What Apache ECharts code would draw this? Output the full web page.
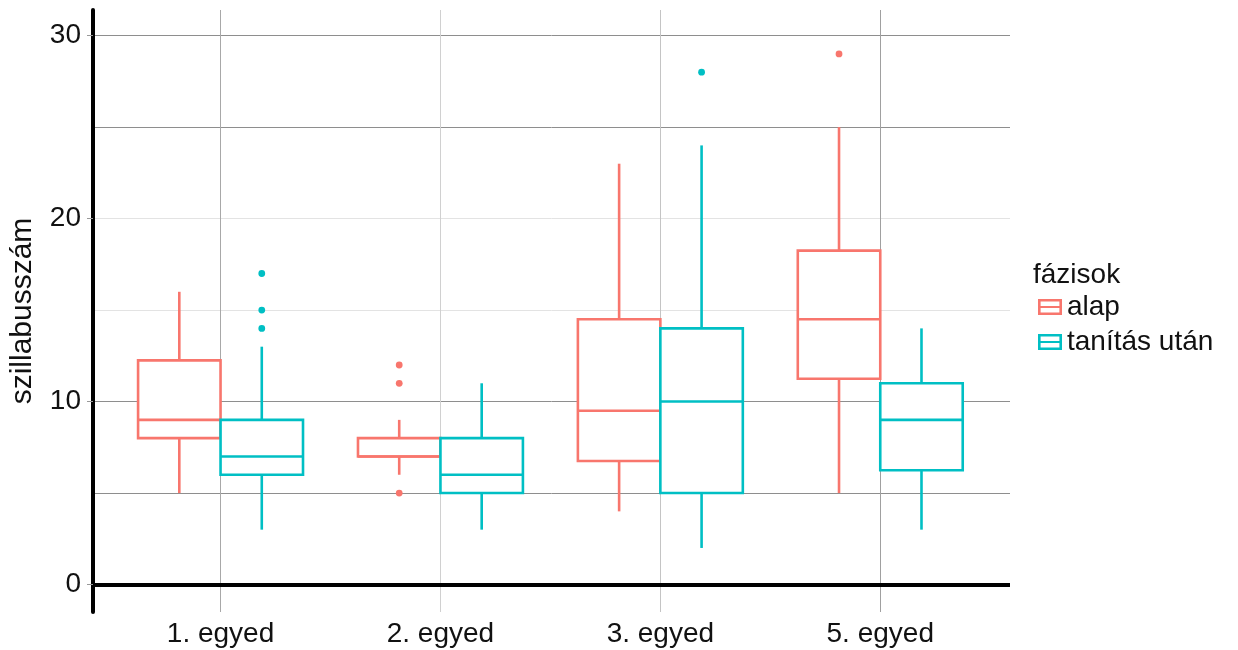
<!DOCTYPE html>
<html>
<head>
<meta charset="utf-8">
<script src="https://cdn.jsdelivr.net/npm/echarts@6/dist/echarts.min.js"></script>
<style>
html,body{margin:0;padding:0;background:#fff;}
#chart{width:1238px;height:650px;}
</style>
</head>
<body>
<div id="chart"></div>
<script>
// ---- data ----
const categories = ['1. egyed', '2. egyed', '3. egyed', '5. egyed'];
const seriesNames = ['alap', 'tanítás után'];
// [min whisker, Q1, median, Q3, max whisker] per category
const alapStats = [[5, 8, 9, 12.25, 16], [6, 7, 7, 8, 9], [4, 6.75, 9.5, 14.5, 23], [5, 11.25, 14.5, 18.25, 25]];
const utanStats = [[3, 6, 7, 9, 13], [3, 5, 6, 8, 11], [2, 5, 10, 14, 24], [3, 6.25, 9, 11, 14]];
// [category index (1-based), value]
const alapOutliers = [[2, 12], [2, 11], [2, 5], [4, 29]];
const utanOutliers = [[1, 17], [1, 15], [1, 14], [3, 28]];
const yTickLabels = [0, 10, 20, 30];
const yGridValues = [5, 10, 15, 20, 25, 30];
const legendTitle = 'fázisok';
const yAxisTitle = 'szillabusszám';

// ---- styles ----
const colors = ['#F8766D', '#00BFC4'];
const FONT = 'Liberation Sans, Arial, Helvetica, sans-serif';
const yGridColors = {5: '#8e8e8e', 10: '#8e8e8e', 15: '#e3e3e3', 20: '#e3e3e3', 25: '#8e8e8e', 30: '#8e8e8e'};
const xGridColors = ['#a8a8a8', '#d0d0d0', '#c4c4c4', '#a0a0a0'];
const HALF = 0.1875; // half box width (x units)

function boxData(stats) {
  return stats.map((s, i) => [i + 1].concat(s));
}

function boxRender(offset, color) {
  return function (params, api) {
    const x = api.value(0) + offset;
    const lo = api.value(1), q1 = api.value(2), med = api.value(3), q3 = api.value(4), hi = api.value(5);
    const tl = api.coord([x - HALF, q3]);
    const br = api.coord([x + HALF, q1]);
    const cTop = api.coord([x, hi]);
    const cQ3 = api.coord([x, q3]);
    const cQ1 = api.coord([x, q1]);
    const cLo = api.coord([x, lo]);
    const mL = api.coord([x - HALF, med]);
    const mR = api.coord([x + HALF, med]);
    const ls = {stroke: color, lineWidth: 2.6, fill: null};
    return {
      type: 'group',
      children: [
        {type: 'line', shape: {x1: cTop[0], y1: cTop[1], x2: cQ3[0], y2: cQ3[1]}, style: ls},
        {type: 'line', shape: {x1: cQ1[0], y1: cQ1[1], x2: cLo[0], y2: cLo[1]}, style: ls},
        {type: 'rect', shape: {x: tl[0], y: tl[1], width: br[0] - tl[0], height: br[1] - tl[1]},
          style: {stroke: color, lineWidth: 2.6, fill: '#ffffff'}},
        {type: 'line', shape: {x1: mL[0], y1: mL[1], x2: mR[0], y2: mR[1]}, style: ls}
      ]
    };
  };
}

function outlierRender(offset, color) {
  return function (params, api) {
    const p = api.coord([api.value(0) + offset, api.value(1)]);
    return {type: 'circle', shape: {cx: p[0], cy: p[1], r: 3.4}, style: {fill: color}};
  };
}

const gridMarks = yGridValues.map(v => [
  {coord: [0.42, v], lineStyle: {color: yGridColors[v], width: 1, type: 'solid'}},
  {coord: [4.59, v]}
]);
categories.forEach((c, i) => {
  gridMarks.push([
    {coord: [i + 1, -1.5], lineStyle: {color: xGridColors[i], width: 1, type: 'solid'}},
    {coord: [i + 1, 31.4]}
  ]);
});

const chart = echarts.init(document.getElementById('chart'), null, {renderer: 'canvas'});
chart.setOption({
  animation: false,
  backgroundColor: '#ffffff',
  textStyle: {fontFamily: FONT},
  title: {
    text: legendTitle, left: 1033, top: 261, padding: 0,
    textStyle: {fontFamily: FONT, fontSize: 28, fontWeight: 'normal', color: '#111'}
  },
  legend: {
    orient: 'vertical', left: 1038, top: 293, padding: 0,
    itemWidth: 24, itemHeight: 16, itemGap: 7,
    icon: 'path://M0,0H24V16H0Z M2.6,2.6V7H21.4V2.6Z M2.6,9V13.4H21.4V9Z',
    textStyle: {fontFamily: FONT, fontSize: 28, color: '#111', lineHeight: 28},
    data: [
      {name: seriesNames[0], itemStyle: {color: colors[0], borderWidth: 0}},
      {name: seriesNames[1], itemStyle: {color: colors[1], borderWidth: 0}}
    ]
  },
  grid: {left: 93, right: 228, top: 10, bottom: 38, containLabel: false, outerBoundsMode: 'none'},
  xAxis: {
    type: 'value', min: 0.42, max: 4.59,
    axisLine: {show: false},
    axisTick: {show: false},
    splitLine: {show: false},
    axisLabel: {
      customValues: categories.map((c, i) => i + 1),
      formatter: v => categories[Math.round(v) - 1] || '',
      fontFamily: FONT, fontSize: 28, color: '#111', margin: 8
    }
  },
  yAxis: {
    type: 'value', min: -1.5, max: 31.4,
    name: yAxisTitle, nameLocation: 'middle', nameGap: 55,
    nameTextStyle: {fontFamily: FONT, fontSize: 30, color: '#111'},
    axisLine: {show: true, lineStyle: {color: '#000', width: 4}},
    axisTick: {show: true, customValues: yTickLabels, length: 6, lineStyle: {color: '#999', width: 1}},
    splitLine: {show: false},
    axisLabel: {customValues: yTickLabels, fontFamily: FONT, fontSize: 28, color: '#111', margin: 12}
  },
  series: [
    {
      type: 'custom', name: '__grid', z: 0, silent: true,
      data: [[1, 0]],
      renderItem: () => ({type: 'group', children: []}),
      markLine: {
        silent: true, symbol: 'none', label: {show: false}, z: 0,
        animation: false,
        data: gridMarks
      }
    },
    {
      type: 'custom', name: '__zero', z: 10, silent: true,
      data: [[1, 0]],
      renderItem: () => ({type: 'group', children: []}),
      markLine: {
        silent: true, symbol: 'none', label: {show: false}, z: 10, animation: false,
        data: [[{coord: [0.42, 0], lineStyle: {color: '#000', width: 4, type: 'solid'}}, {coord: [4.59, 0]}]]
      }
    },
    {
      type: 'custom', name: seriesNames[0], z: 3,
      itemStyle: {color: colors[0]},
      data: boxData(alapStats),
      encode: {x: 0, y: [1, 2, 3, 4, 5]},
      renderItem: boxRender(-HALF, colors[0])
    },
    {
      type: 'custom', name: seriesNames[1], z: 3,
      itemStyle: {color: colors[1]},
      data: boxData(utanStats),
      encode: {x: 0, y: [1, 2, 3, 4, 5]},
      renderItem: boxRender(HALF, colors[1])
    },
    {
      type: 'custom', name: seriesNames[0], z: 4,
      itemStyle: {color: colors[0]},
      data: alapOutliers,
      encode: {x: 0, y: 1},
      renderItem: outlierRender(-HALF, colors[0])
    },
    {
      type: 'custom', name: seriesNames[1], z: 4,
      itemStyle: {color: colors[1]},
      data: utanOutliers,
      encode: {x: 0, y: 1},
      renderItem: outlierRender(HALF, colors[1])
    }
  ]
});
</script>
</body>
</html>
